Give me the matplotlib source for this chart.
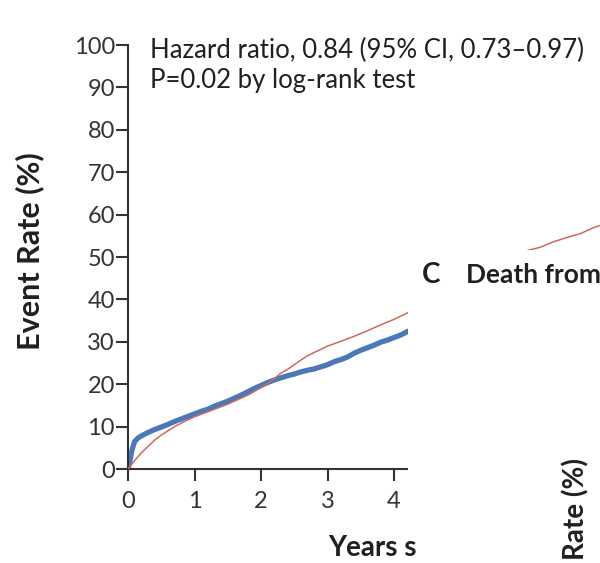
import matplotlib.pyplot as plt
from matplotlib.patches import Rectangle

# 数据
years_blue = [0, 0.03, 0.06, 0.1, 0.15, 0.2, 0.3, 0.4, 0.5, 0.6, 0.7, 0.8, 0.9, 1.0,
              1.1, 1.2, 1.3, 1.4, 1.5, 1.6, 1.7, 1.8, 1.9, 2.0, 2.1, 2.2, 2.3, 2.4,
              2.5, 2.6, 2.7, 2.8, 2.9, 3.0, 3.1, 3.2, 3.3, 3.4, 3.5, 3.6, 3.7, 3.8,
              3.9, 4.0, 4.1, 4.2, 4.3]
rate_blue = [0, 2.0, 4.5, 6.5, 7.3, 7.8, 8.6, 9.3, 9.9, 10.5, 11.2, 11.8, 12.4, 13.0,
             13.6, 14.1, 14.8, 15.4, 16.0, 16.7, 17.4, 18.2, 19.0, 19.7, 20.4, 21.0, 21.5, 22.0,
             22.4, 22.9, 23.3, 23.6, 24.1, 24.6, 25.3, 25.8, 26.4, 27.3, 28.0, 28.6, 29.2, 29.9,
             30.4, 31.0, 31.6, 32.4, 33.0]

years_red = [0, 0.1, 0.2, 0.3, 0.4, 0.5, 0.6, 0.7, 0.8, 0.9, 1.0, 1.1, 1.2, 1.3, 1.4,
             1.5, 1.6, 1.7, 1.8, 1.9, 2.0, 2.1, 2.2, 2.3, 2.4, 2.5, 2.6, 2.7, 2.8, 2.9,
             3.0, 3.2, 3.4, 3.6, 3.8, 4.0, 4.2, 4.5, 5.0, 5.5, 6.0, 6.2, 6.4, 6.6, 6.8, 7.0, 7.2]
rate_red = [0, 2.0, 3.8, 5.3, 6.8, 8.0, 9.0, 10.0, 10.8, 11.6, 12.3, 12.9, 13.5, 14.1, 14.7,
            15.3, 16.0, 16.7, 17.4, 18.3, 19.2, 20.2, 21.3, 22.6, 23.5, 24.6, 25.7, 26.7, 27.5, 28.2,
            29.0, 30.1, 31.3, 32.6, 34.0, 35.3, 36.8, 39.0, 43.0, 47.5, 51.5, 52.3, 53.6, 54.6, 55.5, 56.9, 58.0]

yticks = [0, 10, 20, 30, 40, 50, 60, 70, 80, 90, 100]
xticks = [0, 1, 2, 3, 4]

plt.rcParams['font.family'] = ['Lato', 'DejaVu Sans']
W, H = 600, 563
fig = plt.figure(figsize=(6, 5.63), dpi=100)

def fx(px):
    return px / W

def fy(py):
    return 1 - py / H

ax = fig.add_axes([fx(128), fy(469), fx(600) - fx(128), fy(45) - fy(469)])
ax.plot(years_red, rate_red, color='#cd6a5c', lw=1.1, zorder=3)
ax.plot(years_blue, rate_blue, color='#4a78b8', lw=3.8, zorder=2)

ax.set_xlim(0, 472 / 66.5)
ax.set_ylim(0, 100)
ax.set_yticks(yticks)
ax.set_xticks(xticks)
ax.spines['right'].set_visible(False)
ax.spines['top'].set_visible(False)
for s in ['left', 'bottom']:
    ax.spines[s].set_linewidth(1.5)
    ax.spines[s].set_color('#333333')
ax.tick_params(axis='both', length=8.5, width=1.5, color='#333333', labelsize=17, labelcolor='#333333')
ax.tick_params(axis='y', pad=1)
ax.tick_params(axis='x', pad=7)

fig.text(fx(150), fy(58), 'Hazard ratio, 0.84 (95% CI, 0.73\u20130.97)', fontsize=18.5,
         color='#231f20', va='baseline')
fig.text(fx(150), fy(88), 'P=0.02 by log-rank test', fontsize=18.5, color='#231f20', va='baseline')
fig.text(fx(30), fy(251), 'Event Rate (%)', rotation=90, fontsize=22, fontweight='bold',
         color='#231f20', ha='center', va='center')

# 覆盖的C面板（白色区域）
fig.patches.append(Rectangle((fx(408), 0), 1 - fx(408), fy(250), transform=fig.transFigure,
                             facecolor='white', edgecolor='none', zorder=5))
fig.text(fx(328), fy(556), 'Years s', fontsize=20, fontweight='bold',
         color='#231f20', va='baseline', zorder=6)
fig.text(fx(422), fy(283), 'C', fontsize=20, fontweight='bold', color='#231f20',
         va='baseline', zorder=6)
fig.text(fx(466), fy(283), 'Death from', fontsize=19, fontweight='bold',
         color='#231f20', va='baseline', zorder=6)
fig.text(fx(576), fy(458), 'Rate (%)', rotation=90, fontsize=20, fontweight='bold',
         color='#231f20', ha='center', va='top', zorder=6)

plt.savefig('out.png', dpi=100)
